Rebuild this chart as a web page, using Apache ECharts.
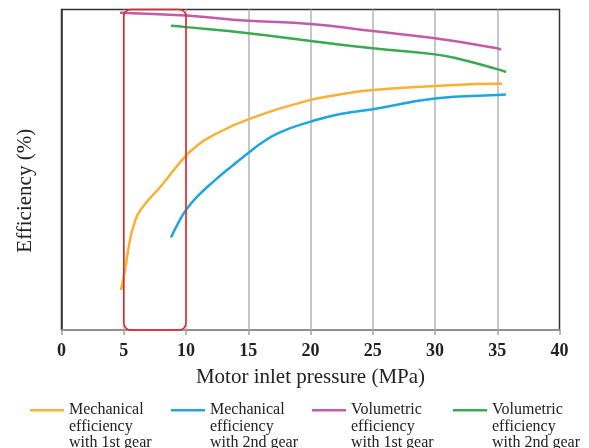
<!DOCTYPE html>
<html>
<head>
<meta charset="utf-8">
<script src="https://cdn.jsdelivr.net/npm/echarts@6/dist/echarts.min.js"></script>
<style>
  html, body { margin: 0; padding: 0; background: #fff; }
  #chart { width: 589px; height: 448px; }
</style>
</head>
<body>
<div id="chart"></div>
<script>
// series names (legend text, broken in three lines)
var seriesNames = [
  'Mechanical\nefficiency\nwith 1st gear',
  'Mechanical\nefficiency\nwith 2nd gear',
  'Volumetric\nefficiency\nwith 1st gear',
  'Volumetric\nefficiency\nwith 2nd gear'
];
var seriesColors = ['#f7b133', '#1ea7de', '#c45ba8', '#39aa50'];
var legendLeft = [30, 171, 312, 453];

// [pressure MPa, efficiency (relative, y axis has no scale)]
var mech1st = [
  [4.78, 12.5], [5.1, 18.7], [5.5, 28.1], [5.8, 32.6], [6.3, 37.2], [8.1, 45.4],
  [9.9, 54.0], [10.9, 57.6], [12.2, 60.8], [15, 65.7], [20, 71.8], [22.1, 73.3],
  [25, 74.9], [30, 76.1], [35, 76.8], [35.4, 76.8]
];
var mech2nd = [
  [8.8, 28.9], [9.5, 34.3], [10.1, 38.0], [10.9, 41.6], [12.2, 46.3], [13.8, 51.5],
  [15, 55.2], [16, 58.2], [17.5, 61.6], [20, 65.0], [22.4, 67.4], [25, 68.9],
  [30, 72.2], [35, 73.3], [35.7, 73.5]
];
var vol1st = [
  [4.7, 99.0], [10, 98.1], [15, 96.5], [20, 95.5], [25, 93.3], [30, 91.0],
  [35, 87.9], [35.3, 87.4]
];
var vol2nd = [
  [8.8, 94.9], [10, 94.5], [15, 92.6], [20, 90.2], [25, 87.9], [30, 86.0],
  [31.7, 84.8], [35, 81.4], [35.7, 80.5]
];
var seriesData = [mech1st, mech2nd, vol1st, vol2nd];

// highlighted pressure range (red frame)
var highlightRange = [[5, 10]];

var chart = echarts.init(document.getElementById('chart'));

var series = seriesData.map(function(d, i) {
  return {
    name: seriesNames[i],
    type: 'line',
    data: d,
    smooth: 0.5,
    showSymbol: false,
    symbol: 'none',
    lineStyle: { color: seriesColors[i], width: 2.5 },
    itemStyle: { color: seriesColors[i] },
    z: 3
  };
});

series.push({
  type: 'custom',
  data: highlightRange,
  clip: false,
  silent: true,
  z: 4,
  renderItem: function(params, api) {
    var p0 = api.coord([api.value(0), 100]);
    var p1 = api.coord([api.value(1), 0]);
    return {
      type: 'rect',
      shape: { x: p0[0], y: p0[1], width: p1[0] - p0[0], height: p1[1] - p0[1], r: 7 },
      style: { fill: 'none', stroke: '#e8232a', lineWidth: 1.5 }
    };
  }
});

// one legend per series so every item sits at its own place
var legends = seriesNames.map(function(n, i) {
  return {
    data: [n],
    left: legendLeft[i],
    top: 369,
    padding: 0,
    icon: 'rect',
    itemWidth: 34,
    itemHeight: 2.5,
    // two empty lines first, so the first text line lines up with the icon
    formatter: function(name) { return '\n\n' + name; },
    textStyle: {
      fontFamily: 'Liberation Serif',
      fontSize: 16,
      lineHeight: 16.5,
      color: '#222'
    }
  };
});

chart.setOption({
  animation: false,
  grid: {
    left: 61.5, right: 29.5, top: 9.5, bottom: 118,
    show: true, borderColor: '#333', borderWidth: 1.5
  },
  legend: legends,
  xAxis: {
    type: 'value',
    min: 0,
    max: 40,
    interval: 5,
    name: 'Motor inlet pressure (MPa)',
    nameLocation: 'middle',
    nameGap: 37,
    nameTextStyle: { fontFamily: 'Liberation Serif', fontSize: 21, color: '#222' },
    axisLine: { show: true, lineStyle: { color: '#a0a0a0', width: 1.5 } },
    axisTick: { show: true, length: 5, lineStyle: { color: '#a0a0a0', width: 1.5 } },
    axisLabel: { margin: 12, fontFamily: 'Liberation Serif', fontWeight: 'bold', fontSize: 18, color: '#222' },
    splitLine: { show: true, showMinLine: false, showMaxLine: false, lineStyle: { color: '#b5b5b5', width: 1.5 } }
  },
  yAxis: {
    type: 'value',
    min: 0,
    max: 100,
    name: 'Efficiency (%)',
    nameLocation: 'middle',
    nameGap: 26,
    nameTextStyle: { fontFamily: 'Liberation Serif', fontSize: 21, color: '#222', padding: [0, 42, 0, 0] },
    axisLine: { show: true, lineStyle: { color: '#333', width: 1.5 } },
    axisTick: { show: false },
    axisLabel: { show: false },
    splitLine: { show: false }
  },
  series: series
});
window.addEventListener('resize', function() { chart.resize(); });
</script>
</body>
</html>
